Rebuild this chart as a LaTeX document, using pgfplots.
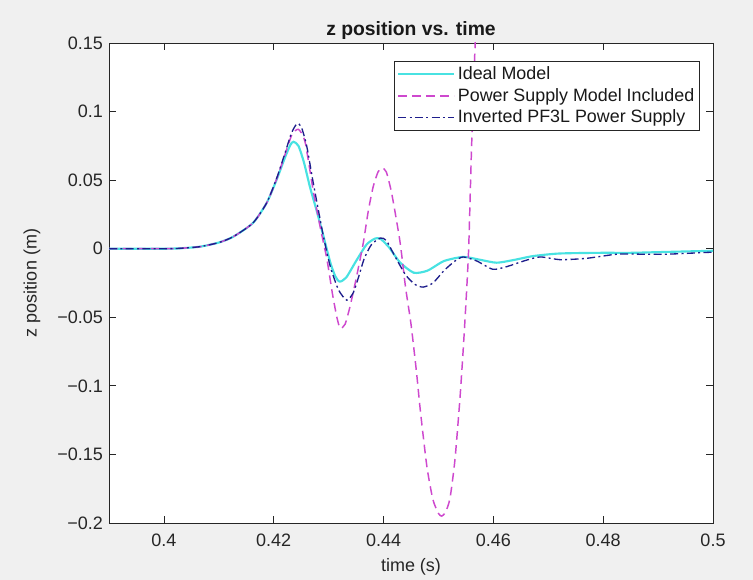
\documentclass[border=0pt]{standalone}
\usepackage{fontspec}
\setmainfont{Liberation Sans}
\usepackage{pgfplots}
\pgfplotsset{compat=1.18}

\definecolor{figbg}{RGB}{240,240,240}
\definecolor{axgray}{RGB}{38,38,38}
\definecolor{idealc}{RGB}{72,226,226}
\definecolor{psm}{RGB}{206,72,206}
\definecolor{invb}{RGB}{30,30,140}

\begin{document}
\begin{tikzpicture}
% figure background, fixes the picture size (753 x 580 px at 0.75pt/px)
\fill[figbg, use as bounding box] (0,0) rectangle (564.75pt,435pt);
\begin{axis}[
  at={(81.75pt,42.75pt)}, anchor=south west,
  scale only axis, width=453pt, height=360pt,
  xmin=0.39, xmax=0.5, ymin=-0.2, ymax=0.15,
  axis background/.style={fill=white},
  axis line style={axgray, line width=0.6pt},
  tick style={axgray, line width=0.6pt},
  major tick length=5pt,
  tick align=inside,
  xtick pos=both, ytick pos=both,
  xtick={0.4,0.42,0.44,0.46,0.48,0.5},
  xticklabels={0.4,0.42,0.44,0.46,0.48,0.5},
  ytick={-0.2,-0.15,-0.1,-0.05,0,0.05,0.1,0.15},
  yticklabels={−0.2,−0.15,−0.1,−0.05,0,0.05,0.1,0.15},
  ticklabel style={font=\fontsize{13.5}{16}\selectfont, text=axgray},
  xticklabel style={yshift=-5pt},
  yticklabel style={xshift=-1pt},
  xlabel={time (s)},
  ylabel={z position (m)},
  xlabel style={at={(axis description cs:0.5,-0.0917)}, anchor=center, font=\fontsize{13.5}{16}\selectfont, text=axgray},
  ylabel style={at={(axis description cs:-0.1275,0.5)}, anchor=center, rotate=0, font=\fontsize{13.5}{16}\selectfont, text=axgray},
  every axis title shift=0pt,
  title={z position vs. time},
  title style={at={(axis description cs:0.5,1.025)}, anchor=center, font=\bfseries\fontsize{14.5}{17}\selectfont, text=black!90},
  legend style={at={(0.9785,0.9625)}, anchor=north east, draw=axgray, line width=0.6pt,
    font=\fontsize{13.4}{16}\selectfont, text=black!90, row sep=1pt, inner sep=2pt},
  legend cell align={left},
  legend image code/.code={\draw[#1] (0pt,0pt) -- (42pt,0pt);},
]
\addplot[idealc, line width=1.6pt, smooth, tension=0.4] coordinates {
(0.390,0) (0.400,0) (0.403,0.0003) (0.4066,0.0015) (0.410,0.0045) (0.4126,0.0087)
(0.4162,0.0187) (0.4187,0.0333) (0.4205,0.050) (0.4220,0.066) (0.4230,0.0755)
(0.4236,0.078) (0.4245,0.075) (0.4255,0.063) (0.4266,0.045) (0.4278,0.028)
(0.4290,0.010) (0.4303,-0.010) (0.4312,-0.020) (0.4320,-0.024) (0.4332,-0.021)
(0.4350,-0.009) (0.4369,0.003) (0.4385,0.0075) (0.4395,0.007) (0.4410,0.001)
(0.4430,-0.010) (0.4455,-0.0175) (0.4480,-0.016) (0.4510,-0.009) (0.4545,-0.006)
(0.4575,-0.008) (0.4606,-0.0102) (0.4640,-0.008) (0.4672,-0.0054) (0.4720,-0.0035)
(0.4794,-0.003) (0.4850,-0.003) (0.4900,-0.0025) (0.4950,-0.002) (0.5000,-0.0015)
};
\addlegendentry{Ideal Model}
\addplot[psm, line width=1.1pt, dash pattern=on 6.5pt off 4pt, smooth, tension=0.4] coordinates {
(0.390,0) (0.400,0) (0.403,0.0003) (0.4066,0.0015) (0.410,0.0045) (0.4126,0.0087)
(0.4162,0.0187) (0.4187,0.0333) (0.4205,0.0505) (0.4220,0.068) (0.4233,0.083)
(0.4245,0.087) (0.4257,0.078) (0.4272,0.042) (0.4285,0.015) (0.4297,-0.008)
(0.4307,-0.033) (0.4315,-0.050) (0.4321,-0.058) (0.4330,-0.055) (0.4339,-0.042)
(0.4350,-0.022) (0.4363,0.004) (0.4372,0.027) (0.4381,0.045) (0.4390,0.056)
(0.4397,0.0588) (0.4405,0.056) (0.4415,0.040) (0.4430,0.005) (0.4440,-0.028)
(0.4450,-0.055) (0.4460,-0.090) (0.4467,-0.118) (0.4479,-0.159) (0.4490,-0.183)
(0.4500,-0.193) (0.4506,-0.195) (0.4513,-0.192) (0.4521,-0.182) (0.4530,-0.154)
(0.4539,-0.110) (0.4545,-0.074) (0.4550,-0.040) (0.4555,0.000) (0.4560,0.070)
(0.4565,0.130) (0.4570,0.180)
};
\addlegendentry{Power Supply Model Included}
\addplot[invb, line width=1.0pt, dash pattern=on 6pt off 2.5pt on 1.5pt off 2.5pt, smooth, tension=0.4] coordinates {
(0.390,0) (0.400,0) (0.403,0.0003) (0.4066,0.0015) (0.410,0.0045) (0.4126,0.0087)
(0.4162,0.0187) (0.4187,0.0333) (0.4205,0.051) (0.4220,0.069) (0.4232,0.084)
(0.4242,0.091) (0.4250,0.089) (0.4260,0.075) (0.4272,0.048) (0.4290,0.010)
(0.4303,-0.013) (0.4318,-0.030) (0.4333,-0.0375) (0.4345,-0.032) (0.4355,-0.020)
(0.4365,-0.007) (0.4378,0.003) (0.4394,0.0078) (0.4405,0.006) (0.4420,-0.005)
(0.4440,-0.019) (0.4457,-0.026) (0.4472,-0.028) (0.4490,-0.025) (0.4510,-0.016)
(0.4530,-0.009) (0.4545,-0.006) (0.4570,-0.009) (0.4599,-0.015) (0.4625,-0.013)
(0.4655,-0.009) (0.4685,-0.006) (0.4722,-0.008) (0.4770,-0.007) (0.4825,-0.004)
(0.4870,-0.004) (0.4916,-0.004) (0.5000,-0.0025)
};
\addlegendentry{Inverted PF3L Power Supply}
\end{axis}
\end{tikzpicture}
\end{document}
